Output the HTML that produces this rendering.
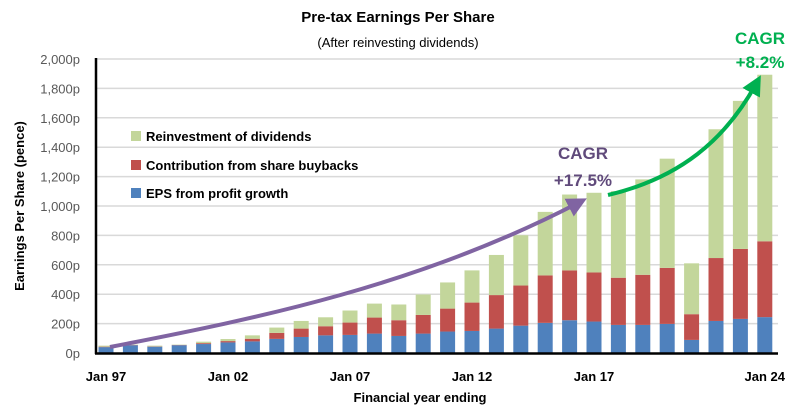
<!DOCTYPE html>
<html><head><meta charset="utf-8"><style>
body{margin:0;background:#fff;}
svg{display:block;font-family:"Liberation Sans",sans-serif;}
</style></head><body>
<svg id="chart" width="795" height="408">
<text x="398" y="22" text-anchor="middle" font-size="15" font-weight="bold" fill="#000">Pre-tax Earnings Per Share</text>
<text x="398" y="47" text-anchor="middle" font-size="13" fill="#000">(After reinvesting dividends)</text>
<g id="grid"></g><g id="bars"></g><g id="yticks"></g><g id="xticks"></g>
<line x1="96" y1="58" x2="96" y2="354" stroke="#000" stroke-width="2.5"/>
<line x1="95" y1="353.5" x2="778" y2="353.5" stroke="#000" stroke-width="2.5"/>
<text transform="translate(24,206) rotate(-90)" text-anchor="middle" font-size="13" font-weight="bold">Earnings Per Share (pence)</text>
<text x="420" y="402" text-anchor="middle" font-size="13" font-weight="bold">Financial year ending</text>
<g>
<rect x="131" y="131" width="10" height="10" fill="#C3D69B"/>
<text x="146" y="141" font-size="13" font-weight="bold">Reinvestment of dividends</text>
<rect x="131" y="160" width="10" height="10" fill="#C0504D"/>
<text x="146" y="170" font-size="13" font-weight="bold">Contribution from share buybacks</text>
<rect x="131" y="188" width="10" height="10" fill="#4F81BD"/>
<text x="146" y="198" font-size="13" font-weight="bold">EPS from profit growth</text>
</g>
<defs>
<marker id="mp" markerWidth="5" markerHeight="5" refX="2.5" refY="2.5" orient="auto" markerUnits="strokeWidth"><path d="M0,0 L5,2.5 L0,5 z" fill="#8064A2"/></marker>
<marker id="mg" markerWidth="5" markerHeight="5" refX="2.5" refY="2.5" orient="auto" markerUnits="strokeWidth"><path d="M0,0 L5,2.5 L0,5 z" fill="#00B050"/></marker>
</defs>
<path d="M110,347 C260,318 420,285 578,203" fill="none" stroke="#8064A2" stroke-width="4" marker-end="url(#mp)"/>
<path d="M608,195 C680,178 725,140 756,84" fill="none" stroke="#00B050" stroke-width="4" marker-end="url(#mg)"/>
<text x="583" y="159" text-anchor="middle" font-size="17" font-weight="bold" fill="#604A7B">CAGR</text>
<text x="583" y="186" text-anchor="middle" font-size="17" font-weight="bold" fill="#604A7B">+17.5%</text>
<text x="760" y="44" text-anchor="middle" font-size="17" font-weight="bold" fill="#00B050">CAGR</text>
<text x="760" y="68" text-anchor="middle" font-size="17" font-weight="bold" fill="#00B050">+8.2%</text>
</svg>
<script>
const years = ["97","98","99","00","01","02","03","04","05","06","07","08","09","10","11","12","13","14","15","16","17","18","19","20","21","22","23","24"];
const profitEPS = [40,53,43,53,61,72,79,96,109,120,123,132,116,132,146,150,166,186,205,223,214,191,191,198,89,218,232,244];
const buybackEPS = [3,2,2,2,6,9,18,41,57,62,84,109,107,127,156,193,228,273,323,339,334,321,341,381,175,428,476,516];
const dividendEPS = [7,2,5,2,10,14,23,36,52,61,82,95,107,139,178,219,273,342,432,516,542,589,649,743,346,876,1007,1133];
const yTicks = [0,200,400,600,800,1000,1200,1400,1600,1800,2000];
const yTickLabels = ["0p","200p","400p","600p","800p","1,000p","1,200p","1,400p","1,600p","1,800p","2,000p"];
const xLabelIdx = [0,5,10,15,20,27];
const xLabels = ["Jan 97","Jan 02","Jan 07","Jan 12","Jan 17","Jan 24"];

const NS="http://www.w3.org/2000/svg";
const y0=353,y1=59,vmax=2000;
function yScale(v){return y0-(v/vmax)*(y0-y1);}
function xScale(i){return 106+i*24.4;}
function mk(tag,attrs,parent){const e=document.createElementNS(NS,tag);for(const k in attrs)e.setAttribute(k,attrs[k]);parent.appendChild(e);return e;}
const grid=document.getElementById('grid'),bars=document.getElementById('bars'),yt=document.getElementById('yticks'),xt=document.getElementById('xticks');
yTicks.forEach((v,i)=>{
  if(v>0){const l=mk('line',{x1:96,x2:778,y1:yScale(v),y2:yScale(v),stroke:'#D9D9D9','stroke-width':1.5},grid);
  
  }
  const t=mk('text',{x:80,y:yScale(v)+5,'text-anchor':'end','font-size':13,fill:'#595959'},yt);
  t.textContent=yTickLabels[i];
  
  
});
const w=15;
years.forEach((yr,i)=>{
  const cx=xScale(i);
  const segs=[[profitEPS[i],'#4F81BD','profit'],[buybackEPS[i],'#C0504D','buyback'],[dividendEPS[i],'#C3D69B','dividend']];
  let base=0;
  segs.forEach(s=>{
    const r=mk('rect',{x:cx-w/2,y:yScale(base+s[0]),width:w,height:yScale(base)-yScale(base+s[0]),fill:s[1]},bars);
    
    
    base+=s[0];
  });
});
xLabelIdx.forEach((idx,i)=>{
  const t=mk('text',{x:xScale(idx),y:381,'text-anchor':'middle','font-size':13,'font-weight':'bold'},xt);
  t.textContent=xLabels[i];
  
  
});
</script>
</body></html>
